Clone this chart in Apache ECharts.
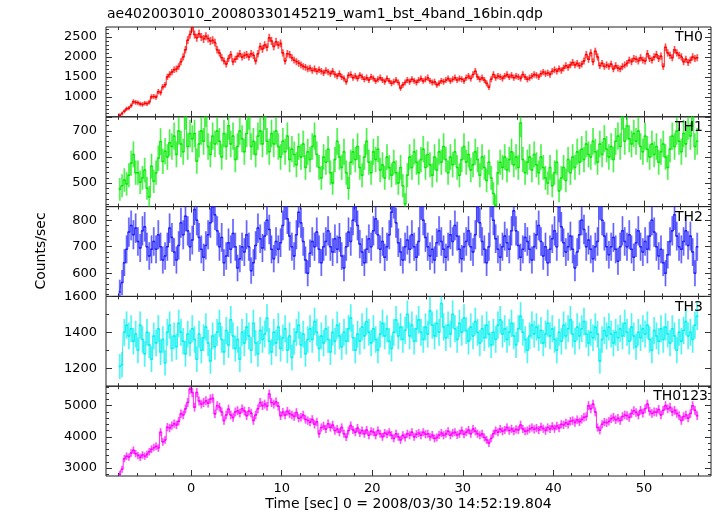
<!DOCTYPE html>
<html><head><meta charset="utf-8">
<script src="https://cdn.jsdelivr.net/npm/echarts@6/dist/echarts.min.js"></script>
<style>html,body{margin:0;padding:0;background:#fff}#c{width:717px;height:516px}</style>
</head><body><div id="c"></div>
<script>
// ---- data: 0.25 s bins starting at t = -7.875 s ----
const T_START = -7.875;
const BIN = 0.25;
const TH0 = [
540,580,640,700, 720,780,880,860, 850,820,810,840, 830,870,1000,1010,
990,1130,1100,1250, 1300,1500,1560,1620, 1680,1700,1760,1880, 2000,2180,2420,2560,
2740,2560,2480,2580, 2500,2450,2520,2460, 2400,2420,2360,2180, 2100,1980,1900,1820,
1960,2060,1880,1940, 2020,2080,2000,2040, 2060,2000,2080,2040, 1900,2080,2260,2200,
2300,2240,2480,2400, 2260,2380,2300,2340, 2100,1900,2080,2060, 1980,1920,1880,1840,
1800,1760,1740,1700, 1720,1660,1700,1640, 1680,1640,1600,1660, 1620,1580,1640,1560,
1520,1580,1500,1460, 1380,1540,1560,1480, 1520,1460,1540,1500, 1440,1480,1420,1500,
1460,1400,1440,1480, 1420,1380,1460,1400, 1340,1380,1420,1360, 1220,1300,1360,1420,
1380,1440,1400,1360, 1420,1460,1400,1440, 1480,1400,1360,1380, 1300,1340,1400,1380,
1420,1460,1400,1440, 1480,1420,1460,1440, 1400,1480,1520,1460, 1560,1640,1500,1440,
1480,1420,1340,1240, 1440,1560,1480,1520, 1500,1460,1520,1560, 1500,1540,1480,1520,
1500,1460,1560,1500, 1440,1480,1520,1560, 1540,1500,1580,1620, 1580,1600,1560,1640,
1680,1640,1700,1660, 1720,1780,1740,1800, 1860,1800,1840,1780, 1820,1900,2060,1940,
2100,1880,2140,2000, 1780,1840,1760,1800, 1760,1820,1700,1780, 1720,1700,1760,1800,
1840,1920,1880,1960, 1940,1900,1980,1920, 1900,2080,1960,1920, 2000,2060,1960,2020,
1760,2240,2100,2040, 1980,2180,2100,2040, 2000,1880,1940,1860, 1920,2000,1960,1980
];
const TH1 = [
476,490,512,497, 530,576,610,540, 540,503,520,550, 480,447,565,507,
540,595,659,583, 622,600,655,640, 680,610,700,650, 620,760,640,690,
670,690,584,650, 700,660,770,640, 610,680,650,700, 660,600,690,640,
720,650,680,590, 640,700,670,620, 690,760,640,660, 610,680,700,650,
760,660,620,690, 650,700,640,600, 660,620,680,590, 630,610,570,640,
600,650,560,620, 590,640,680,610, 560,520,600,580, 630,540,500,590,
660,600,560,620, 540,480,580,620, 590,640,560,530, 600,660,580,540,
620,590,630,550, 570,520,600,560, 530,580,540,500, 560,490,420,530,
600,560,620,580, 540,590,630,560, 610,570,530,600, 550,620,580,640,
590,540,600,570, 620,560,530,590, 640,580,610,550, 570,620,590,530,
600,560,510,580, 520,460,415,540, 580,560,600,550, 590,620,570,600,
560,730,590,540, 580,600,550,610, 570,540,600,560, 520,500,560,490,
540,580,470,520, 560,510,590,540, 600,560,620,580, 630,590,650,610,
600,660,620,580, 650,610,670,630, 600,640,590,660, 680,640,760,660,
720,670,650,690, 660,700,640,620, 680,630,600,650, 610,640,580,620,
650,600,560,630, 680,640,700,660, 620,690,650,720, 680,770,640,660
];
const TH2 = [
530,565,640,690, 755,780,745,770, 720,695,760,775, 700,665,690,720,
690,745,700,650, 665,700,770,735, 680,650,705,790, 745,815,760,700,
725,840,800,735, 690,660,705,745, 790,850,820,760, 700,735,640,665,
715,690,750,700, 620,655,700,680, 745,700,610,640, 705,770,730,695,
740,800,765,690, 655,720,690,715, 780,860,805,740, 700,665,745,830,
790,720,650,600, 675,720,700,755, 690,640,700,720, 760,700,680,730,
690,735,665,620, 700,755,720,800, 850,780,710,680, 640,690,730,700,
760,805,745,690, 720,660,700,745, 830,865,790,715, 680,650,700,725,
690,745,700,660, 720,860,800,735, 700,665,690,650, 715,760,720,690,
660,700,745,720, 780,740,690,655, 700,720,760,700, 680,745,850,790,
720,690,640,700, 870,800,730,690, 660,700,740,715, 690,760,835,760,
705,660,690,735, 720,690,650,700, 745,780,720,665, 700,640,690,730,
760,700,850,775, 715,680,700,740, 690,620,680,745, 800,765,700,725,
690,655,700,720, 860,800,740,700, 670,700,735,690, 645,700,760,720,
700,745,690,660, 715,760,700,680, 720,690,740,800, 755,700,665,690,
640,600,670,720, 760,820,740,700, 690,720,760,705, 740,680,600,700
];
const TH3 = [
1210,1220,1400,1440, 1380,1420,1350,1390, 1300,1440,1360,1280, 1400,1330,1250,1380,
1340,1420,1290,1360, 1230,1400,1440,1310, 1380,1320,1450,1400, 1350,1280,1390,1340,
1420,1360,1250,1390, 1300,1370,1430,1340, 1240,1380,1320,1400, 1450,1360,1290,1410,
1330,1470,1380,1310, 1360,1250,1400,1340, 1430,1380,1300,1450, 1340,1280,1410,1360,
1390,1480,1350,1290, 1400,1340,1430,1310, 1370,1420,1300,1380, 1260,1350,1400,1440,
1330,1390,1280,1360, 1420,1360,1460,1400, 1310,1380,1340,1420, 1360,1290,1400,1350,
1440,1380,1320,1400, 1350,1420,1480,1370, 1300,1390,1350,1430, 1380,1460,1400,1340,
1420,1360,1300,1390, 1450,1380,1420,1350, 1310,1400,1470,1380, 1430,1360,1410,1500,
1380,1440,1350,1420, 1470,1400,1360,1430, 1390,1520,1440,1380, 1450,1400,1560,1430,
1370,1440,1390,1500, 1420,1360,1450,1400, 1480,1410,1350,1430, 1380,1460,1400,1340,
1420,1370,1440,1390, 1330,1400,1360,1440, 1470,1390,1420,1360, 1400,1450,1380,1330,
1420,1490,1400,1360, 1300,1380,1440,1390, 1430,1370,1410,1340, 1390,1450,1380,1420,
1360,1300,1400,1350, 1440,1380,1420,1470, 1390,1350,1430,1380, 1420,1460,1390,1340,
1400,1370,1430,1390, 1240,1360,1410,1380, 1430,1390,1340,1400, 1370,1420,1380,1450,
1400,1350,1430,1380, 1320,1400,1370,1420, 1390,1440,1360,1300, 1410,1380,1350,1420,
1360,1430,1390,1340, 1420,1380,1300,1400, 1350,1410,1460,1380, 1400,1360,1440,1490
];
const TH0123 = [
2800,2960,3300,3380, 3350,3480,3570,3460, 3400,3340,3420,3380, 3440,3520,3600,3660,
3700,3640,4150,3840, 3900,4310,4280,4360, 4420,4380,4500,4740, 4700,4900,5100,5530,
5420,4950,5420,5150, 5050,5100,5160,5080, 5210,5240,4740,5000, 4950,4800,4520,4700,
4890,4700,4620,4800, 4840,4760,4900,4830, 4680,4820,4760,4520, 4700,4900,5100,5000,
5050,4980,5370,5100, 5050,5120,4980,4680, 4790,4700,4820,4740, 4700,4650,4780,4600,
4630,4700,4560,4520, 4470,4560,4400,4480, 4100,4300,4350,4250, 4420,4300,4380,4200,
4250,4150,4300,4100, 3990,4200,4360,4220, 4150,4280,4120,4200, 4100,4220,4050,4180,
4150,4050,4200,4100, 4000,4120,4080,4150, 4050,3950,4100,4000, 3900,4050,3980,4100,
4050,4150,4000,4080, 4120,4050,4150,4080, 4100,4000,4060,3950, 3980,4060,4120,4050,
4100,4180,4050,4120, 4150,4060,4100,4200, 4080,4150,4220,4100, 4250,4180,4100,4050,
4100,3980,3900,3800, 3950,4100,4200,4150, 4250,4180,4220,4300, 4200,4260,4180,4240,
4220,4380,4250,4180, 4200,4260,4300,4240, 4280,4220,4320,4260, 4200,4300,4250,4340,
4260,4350,4280,4400, 4380,4450,4400,4500, 4520,4460,4550,4480, 4560,4630,4650,5000,
4900,5050,4800,4300, 4210,4400,4470,4450, 4500,4580,4630,4550, 4600,4520,4650,4700,
4680,4620,4750,4840, 4780,4700,4850,4760, 4900,5050,4820,4750, 4800,4790,4880,4700,
4850,5000,4900,4950, 4800,4850,4750,4680, 4520,4650,4700,4600, 4750,5000,4850,4680
];
const X_TICKS = [0, 10, 20, 30, 40, 50];
const TH0_TICKS = [1000, 1500, 2000, 2500];
const TH1_TICKS = [500, 600, 700];
const TH2_TICKS = [600, 700, 800];
const TH3_TICKS = [1200, 1400, 1600];
const TH0123_TICKS = [3000, 4000, 5000];
const NAMES = ['TH0', 'TH1', 'TH2', 'TH3', 'TH0123'];

// ---- layout / style ----
const FONT = 'DejaVu Sans';
const TICK_COLOR = '#333';
const X_MIN = -9.4, X_MAX = 57.4;
const PANELS = [
  {data: TH0, ticks: TH0_TICKS, min: 500, max: 2750, minor: 100, color: [255, 0, 0]},
  {data: TH1, ticks: TH1_TICKS, min: 410, max: 754, minor: 20, color: [0, 235, 0]},
  {data: TH2, ticks: TH2_TICKS, min: 513, max: 851, minor: 20, color: [30, 30, 255]},
  {data: TH3, ticks: TH3_TICKS, min: 1100, max: 1600, minor: 100, color: [0, 240, 240]},
  {data: TH0123, ticks: TH0123_TICKS, min: 2744, max: 5624, minor: 200, color: [255, 0, 255]}
];
const TOP0 = 27, PH = 89.8, LEFT = 106, WIDTH = 605;

function range(a, b, step) {
  const out = [];
  for (let v = Math.ceil(a / step) * step; v <= b + 1e-9; v += step) out.push(+v.toFixed(6));
  return out;
}
const X_MINOR = range(X_MIN, X_MAX, 2);
const plain = v => String(v);

const grids = [], xAxes = [], yAxes = [], series = [], graphics = [];
PANELS.forEach((p, g) => {
  const top = TOP0 + PH * g;
  grids.push({left: LEFT, width: WIDTH, top: top, height: PH, show: true,
    borderColor: '#222', borderWidth: 1, backgroundColor: 'transparent'});
  const last = g === PANELS.length - 1;
  const xb = {type: 'value', gridIndex: g, min: X_MIN, max: X_MAX,
    splitLine: {show: false}, axisLine: {show: false, onZero: false}};
  const lab = {color: '#000', fontFamily: FONT, fontSize: 13, formatter: plain};
  ['bottom', 'top'].forEach(pos => {
    xAxes.push(Object.assign({}, xb, {position: pos,
      axisTick: {show: true, inside: true, length: 6, customValues: X_TICKS, lineStyle: {color: TICK_COLOR}},
      axisLabel: Object.assign({show: last && pos === 'bottom', customValues: X_TICKS, margin: 6}, lab)}));
    xAxes.push(Object.assign({}, xb, {position: pos,
      axisTick: {show: true, inside: true, length: 3, customValues: X_MINOR, lineStyle: {color: TICK_COLOR}},
      axisLabel: {show: false}}));
  });
  const yMinor = range(p.min, p.max, p.minor);
  const yMajor = range(p.min, p.max, p.ticks[1] - p.ticks[0]);
  const yb = {type: 'value', gridIndex: g, min: p.min, max: p.max,
    splitLine: {show: false}, axisLine: {show: false, onZero: false}};
  ['left', 'right'].forEach(pos => {
    yAxes.push(Object.assign({}, yb, {position: pos,
      axisTick: {show: true, inside: true, length: 6, customValues: yMajor, lineStyle: {color: TICK_COLOR}},
      axisLabel: Object.assign({show: pos === 'left', customValues: p.ticks, margin: 9}, lab)}));
    yAxes.push(Object.assign({}, yb, {position: pos,
      axisTick: {show: true, inside: true, length: 3, customValues: yMinor, lineStyle: {color: TICK_COLOR}},
      axisLabel: {show: false}}));
  });
  const c = p.color;
  const solid = 'rgb(' + c.join(',') + ')';
  const light = 'rgba(' + c.join(',') + ',0.45)';
  const pts = p.data.map((v, i) => [T_START + i * BIN, v, Math.sqrt(v / BIN)]);
  series.push({
    type: 'line', xAxisIndex: g * 4, yAxisIndex: g * 4, clip: true, step: 'middle',
    data: pts.map(d => [d[0], d[1]]), showSymbol: false, symbol: 'none',
    lineStyle: {color: solid, width: 1, opacity: 0.85}, itemStyle: {color: solid}, silent: true
  });
  series.push({
    type: 'custom', xAxisIndex: g * 4, yAxisIndex: g * 4, clip: true,
    data: pts,
    encode: {x: 0, y: 1},
    renderItem: function (params, api) {
      const t = api.value(0), v = api.value(1), e = api.value(2);
      const a = api.coord([t, v + e]), b = api.coord([t, v - e]);
      const l = api.coord([t - BIN / 2, v]), r = api.coord([t + BIN / 2, v]);
      return {type: 'group', children: [
        {type: 'line', shape: {x1: a[0], y1: a[1], x2: b[0], y2: b[1]}, style: {stroke: light, lineWidth: 2}},
        {type: 'line', shape: {x1: a[0], y1: a[1], x2: b[0], y2: b[1]}, style: {stroke: solid, lineWidth: 0.7, opacity: 0.7}},
        {type: 'line', shape: {x1: l[0], y1: l[1], x2: r[0], y2: r[1]}, style: {stroke: solid, lineWidth: 1.5}}
      ]};
    }
  });
  graphics.push({type: 'text', z: 100, style: {x: g === 4 ? 708 : 703, y: top + 10.5, text: NAMES[g],
    textAlign: 'right', textVerticalAlign: 'middle', font: '14px "DejaVu Sans"', fill: '#000'}});
});

graphics.push({type: 'text', style: {x: 107, y: 14, text: 'ae402003010_20080330145219_wam1_bst_4band_16bin.qdp',
  textAlign: 'left', textVerticalAlign: 'middle', font: '14px "DejaVu Sans"', fill: '#000'}});
graphics.push({type: 'text', style: {x: 408.5, y: 504, text: 'Time [sec] 0 = 2008/03/30 14:52:19.804',
  textAlign: 'center', textVerticalAlign: 'middle', font: '14px "DejaVu Sans"', fill: '#000'}});
graphics.push({type: 'text', rotation: Math.PI / 2, x: 41, y: 251, style: {x: 0, y: 0, text: 'Counts/sec',
  textAlign: 'center', textVerticalAlign: 'middle', font: '14px "DejaVu Sans"', fill: '#000'}});

const chart = echarts.init(document.getElementById('c'), null, {renderer: 'canvas'});
chart.setOption({
  animation: false,
  backgroundColor: '#fff',
  grid: grids, xAxis: xAxes, yAxis: yAxes, series: series, graphic: graphics
});
</script></body></html>
